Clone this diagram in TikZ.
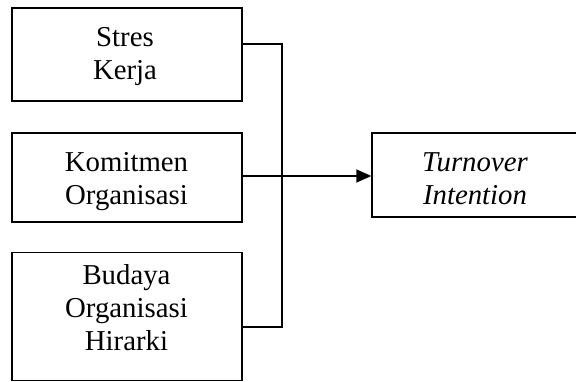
\documentclass[tikz,border=0pt]{standalone}
\usepackage{fontspec}
\setmainfont{Liberation Serif}
\usetikzlibrary{arrows.meta}
\begin{document}
\begin{tikzpicture}[x=1pt,y=-1pt,
  boxshape/.style={draw=black, line width=1.3pt, rectangle, inner sep=0pt},
  boxtext/.style={align=center, inner sep=0pt, font=\fontsize{28.8}{33}\selectfont},
  conn/.style={line width=1.5pt}]
\useasboundingbox (0,0) rectangle (576,382);
% boxes
\node[boxshape, minimum width=230pt, minimum height=93pt] (b1) at (127,54.5) {};
\node[boxshape, minimum width=230pt, minimum height=89pt] (b2) at (127,177.5) {};
\node[boxshape, minimum width=230pt, minimum height=128.5pt] (b3) at (127,316.5) {};
\node[boxshape, minimum width=212pt, minimum height=84pt] (r) at (478,175) {};
% texts
\node[boxtext] (t1) at (125,57) {Stres\\Kerja};
\node[boxtext] (t2) at (126.5,181.5) {Komitmen\\Organisasi};
\node[boxtext] (t3) at (126.5,308) {Budaya\\Organisasi\\Hirarki};
\node[boxtext] (t4) at (475,178.5) {\itshape Turnover\\\itshape Intention};
% connectors
\coordinate (j1) at (282,44);
\coordinate (j3) at (282,327);
\coordinate (j2) at (282,176);
\draw[conn] (b1.east |- j1) -- (j1) -- (j3) -- (b3.east |- j3);
\draw[conn, -{Triangle[length=15pt,width=13pt]}] (b2.east |- j2) -- (r.west |- j2);
\end{tikzpicture}
\end{document}
